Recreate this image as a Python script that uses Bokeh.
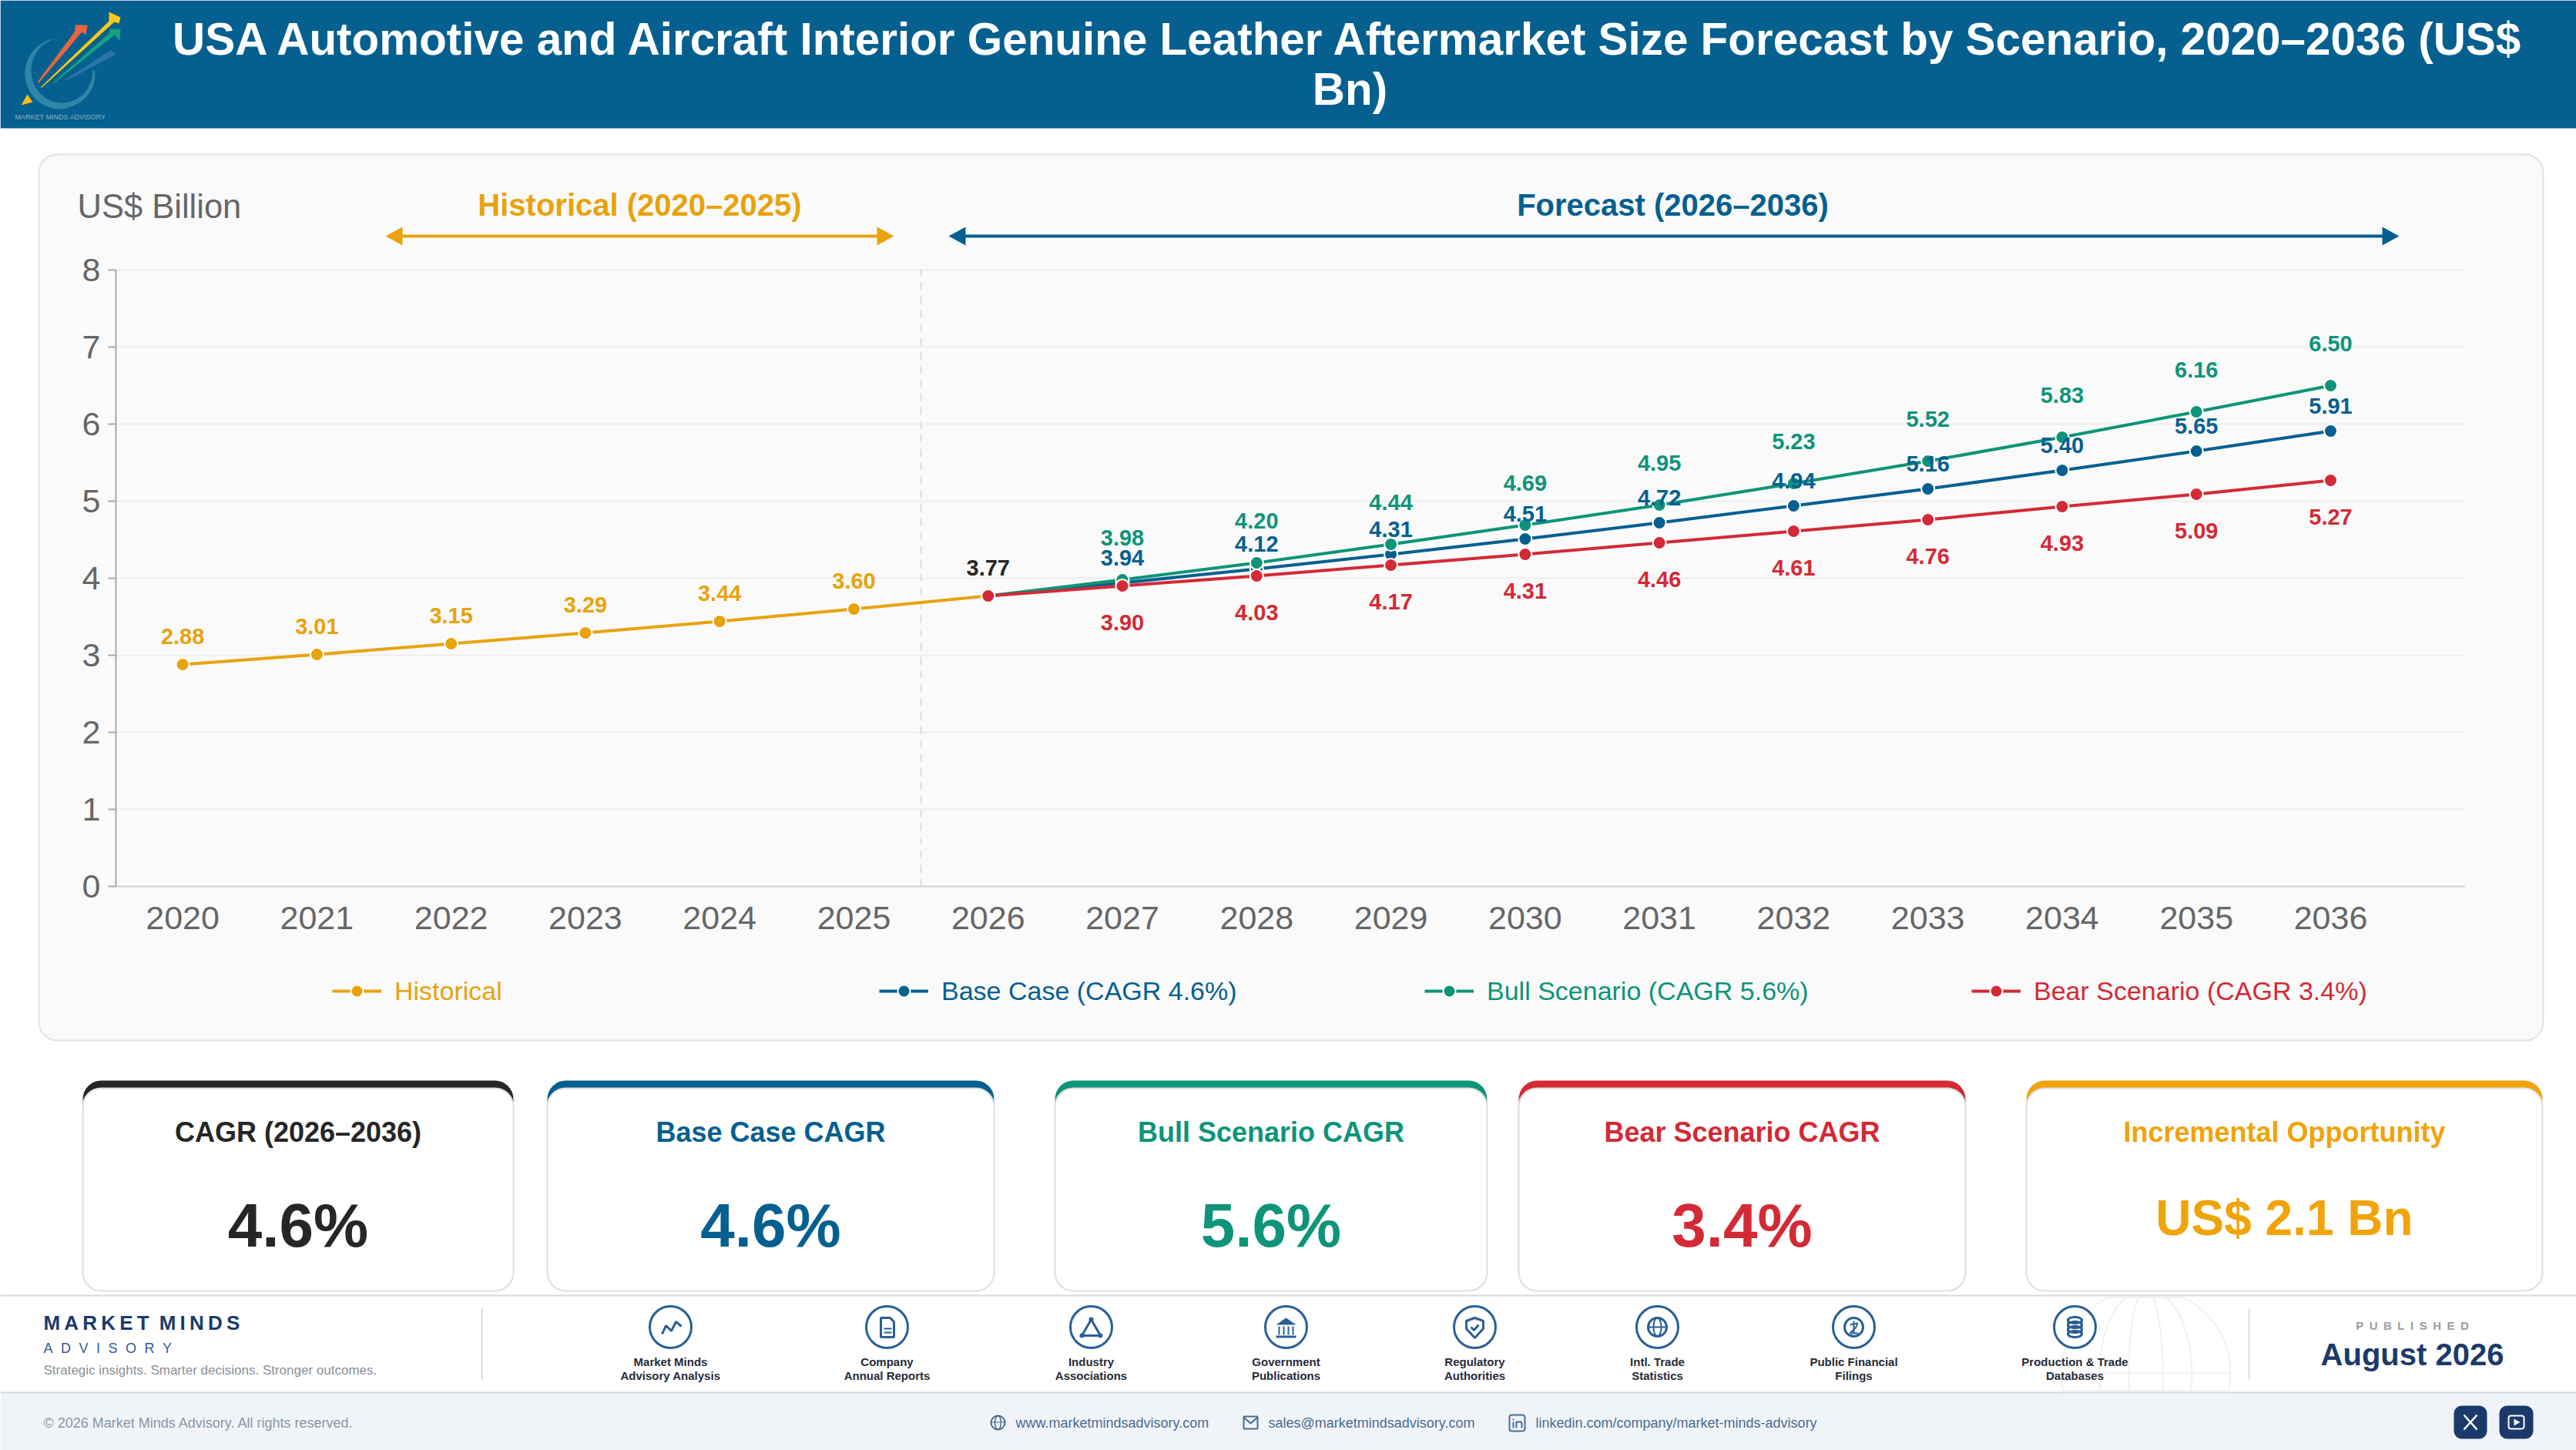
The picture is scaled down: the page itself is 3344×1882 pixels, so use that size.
import numpy as np
from bokeh.core.properties import value
from bokeh.embed import file_html
from bokeh.resources import INLINE
from bokeh.plotting import figure
from bokeh.models import (BoxAnnotation, FixedTicker, Label, Legend, LegendItem, LinearAxis, PolyAnnotation,
                          Range1d)

# ---------- data ----------
years = [2020, 2021, 2022, 2023, 2024, 2025, 2026, 2027, 2028, 2029, 2030, 2031, 2032, 2033, 2034, 2035, 2036]
tick_labels = [str(y) for y in years]
y_ticks = [0, 1, 2, 3, 4, 5, 6, 7, 8]
hist_years = [2020, 2021, 2022, 2023, 2024, 2025, 2026]
hist_values = [2.88, 3.01, 3.15, 3.29, 3.44, 3.60, 3.77]
fc_years = [2026, 2027, 2028, 2029, 2030, 2031, 2032, 2033, 2034, 2035, 2036]
base_values = [3.77, 3.94, 4.12, 4.31, 4.51, 4.72, 4.94, 5.16, 5.40, 5.65, 5.91]
bull_values = [3.77, 3.98, 4.20, 4.44, 4.69, 4.95, 5.23, 5.52, 5.83, 6.16, 6.50]
bear_values = [3.77, 3.90, 4.03, 4.17, 4.31, 4.46, 4.61, 4.76, 4.93, 5.09, 5.27]
series_names = ["Historical", "Base Case (CAGR 4.6%)", "Bull Scenario (CAGR 5.6%)", "Bear Scenario (CAGR 3.4%)"]
card_titles = ["CAGR (2026\u20132036)", "Base Case CAGR", "Bull Scenario CAGR", "Bear Scenario CAGR", "Incremental Opportunity"]
card_values = ["4.6%", "4.6%", "5.6%", "3.4%", "US$ 2.1 Bn"]
source_labels = [("Market Minds", "Advisory Analysis"), ("Company", "Annual Reports"), ("Industry", "Associations"),
                 ("Government", "Publications"), ("Regulatory", "Authorities"), ("Intl. Trade", "Statistics"),
                 ("Public Financial", "Filings"), ("Production & Trade", "Databases")]

# ---------- style ----------
FONT = "Liberation Sans"
GOLD, BLUE, GREEN, RED, INK = "#E8A20C", "#05608F", "#0E9479", "#D32A35", "#262626"
NAVY, ICON = "#1B3A6B", "#2A5F96"
W, H = 3344, 1882
OFF = 0

# The frame fills the page; the ranges are set so that the plot region sits where the reference has it.
L, R, T, B = 150, 3200, 350, 1150
STEP = (3025 - 236.6) / 16
UNIT = 100.0


def x_at(px):
    return 2020 + (px - 236.6) / STEP


def y_at(px):
    return (B - px) / UNIT


p = figure(width=W, height=H, output_backend="svg", toolbar_location=None,
           x_range=Range1d(x_at(OFF), x_at(OFF + W)), y_range=Range1d(y_at(OFF + H), y_at(OFF)),
           x_axis_location=None, y_axis_location=None,
           min_border=0, min_border_left=0, min_border_right=0, min_border_top=0, min_border_bottom=0,
           background_fill_color="white", border_fill_color="white", outline_line_color=None)
p.xgrid.visible = False
p.ygrid.visible = False


def box(l, t, r, b, fill=None, line=None, lw=1, radius=0, level="underlay"):
    p.add_layout(BoxAnnotation(left=l - OFF, right=r - OFF, top=t - OFF, bottom=b - OFF,
                               left_units="canvas", right_units="canvas", top_units="canvas", bottom_units="canvas",
                               fill_color=fill, fill_alpha=1 if fill else 0, line_color=line,
                               line_alpha=1 if line else 0, line_width=lw, border_radius=radius, level=level))


def poly(pts, fill=None, line=None, lw=1, level="annotation", alpha=1):
    xs = [a - OFF for a, _ in pts]
    ys = [c - OFF for _, c in pts]
    p.add_layout(PolyAnnotation(xs=xs, ys=ys, xs_units="canvas", ys_units="canvas",
                                fill_color=fill, fill_alpha=alpha if fill else 0, line_color=line,
                                line_alpha=alpha if line else 0, line_width=lw, level=level))


def pline(pts, color, lw=2, level="annotation", alpha=1):
    poly(list(pts) + list(pts[-2:0:-1]), line=color, lw=lw, level=level, alpha=alpha)


def txt(x, y, s, size, color, bold=False, align="center", level="annotation"):
    p.add_layout(Label(x=x - OFF, y=y - OFF, x_units="canvas", y_units="canvas", text=s,
                       text_font=FONT, text_font_size=f"{size}px", text_color=color,
                       text_font_style="bold" if bold else "normal", text_align=align,
                       text_baseline="middle", level=level))


def ell(cx, cy, rx, ry, a0=0.0, a1=2 * np.pi, n=48):
    return [(cx + rx * np.cos(t), cy + ry * np.sin(t)) for t in np.linspace(a0, a1, n)]


def circ(cx, cy, r, line=None, fill=None, lw=3, level="annotation"):
    box(cx - r, cy - r, cx + r, cy + r, fill=fill, line=line, lw=lw, radius=r, level=level)


# ---------- header ----------
box(0, 0, 3344, 166, fill=BLUE, level="image")
txt(1752, 50, "USA Automotive and Aircraft Interior Genuine Leather Aftermarket Size Forecast by Scenario, 2020\u20132036 (US$", 58.4, "white", True)
txt(1752, 115, "Bn)", 58.4, "white", True)
# logo
outer = ell(78, 95, 46, 46, 4.65, 1.4, 60) + ell(78, 95, 45, 45, 1.4, -0.05, 30)
inner = ell(80, 91, 40, 42, -0.05, 1.4, 30) + ell(80, 91, 40, 42, 1.4, 4.65, 60)
poly(outer + inner, fill="#2F86A8", level="annotation")
poly([(48, 106), (97, 40), (97, 32), (113, 32), (111, 45), (106, 41), (50, 107)], fill="#E8653F")
poly([(52, 113), (141, 27), (141, 15), (156, 22), (154, 30), (148, 28), (54, 113)], fill="#FBC715")
poly([(68, 107), (142, 42), (142, 37), (156, 37), (155, 52), (148, 45), (70, 107)], fill="#17A085")
poly([(84, 103), (143, 65), (150, 70), (86, 104)], fill="#2B76A8")
poly([(27, 136), (35, 122), (42, 132)], fill="#FBB918")
txt(78, 151, "MARKET MINDS ADVISORY", 9, "#8FB0C4")

# ---------- chart panel ----------
box(50, 200, 3301, 1350, fill="#FAFAFA", line="#E2E2E2", lw=2, radius=24, level="image")
txt(100, 267, "US$ Billion", 43.5, "#666666", align="left")
txt(830, 265, "Historical (2020\u20132025)", 40, GOLD, True)
txt(2171, 265, "Forecast (2026\u20132036)", 40, BLUE, True)
for a, b, c in [(500, 1160, GOLD), (1231, 3114, BLUE)]:
    box(a + 10, 304, b - 10, 308, fill=c, level="annotation")
    poly([(a, 306), (a + 22, 294), (a + 22, 318)], fill=c)
    poly([(b, 306), (b - 22, 294), (b - 22, 318)], fill=c)

# ---------- axes ----------
xax = LinearAxis(ticker=FixedTicker(ticks=years), major_label_overrides=dict(zip(years, tick_labels)),
                 fixed_location=0, bounds=(x_at(L), x_at(R)))
yax = LinearAxis(ticker=FixedTicker(ticks=y_ticks), fixed_location=x_at(L), bounds=(y_ticks[0], y_ticks[-1]))
p.add_layout(xax, "below")
p.add_layout(yax, "left")
for ax in (xax, yax):
    ax.major_label_text_font = FONT
    ax.major_label_text_font_size = "43px"
    ax.major_label_text_color = "#666666"
    ax.minor_tick_line_color = None
    ax.major_tick_in = 0
    ax.axis_line_width = 2
xax.major_tick_line_color = None
xax.axis_line_color = "#D0D0D0"
xax.major_label_standoff = 20
yax.axis_line_color = "#A8A8A8"
yax.major_tick_line_color = "#A8A8A8"
yax.major_tick_line_width = 2
yax.major_tick_out = 10
yax.major_label_standoff = 10
p.segment(x0=[x_at(L)] * 8, x1=[x_at(R)] * 8, y0=y_ticks[1:], y1=y_ticks[1:], line_color="#EDEDED", line_width=2,
          level="underlay")
p.line([2025.5, 2025.5], [y_ticks[0], y_ticks[-1]], line_color="#DDDDDD", line_width=2, line_dash=[10, 8])

# ---------- series ----------
specs = [(hist_years, hist_values, GOLD), (fc_years, base_values, BLUE), (fc_years, bull_values, GREEN), (fc_years, bear_values, RED)]
items = []
for xs, ys, col in specs:
    items.append(p.line(xs, ys, line_color=col, line_width=4))
marks = []
for xs, ys, col in specs:
    marks.append(p.scatter(xs, ys, size=17, marker="circle", fill_color=col, line_color="white", line_width=2))

label_style = dict(text_font=value(FONT), text_font_size=value("29px"), text_font_style="bold",
                   text_align="center", text_baseline="middle")
p.text(hist_years[:-1], hist_values[:-1], text=[f"{v:.2f}" for v in hist_values[:-1]], y_offset=-37, text_color=GOLD, **label_style)
p.text(hist_years[-1:], hist_values[-1:], text=[f"{hist_values[-1]:.2f}"], y_offset=-37, text_color=INK, **label_style)
for ys, col, off in [(bull_values, GREEN, -55), (base_values, BLUE, -33), (bear_values, RED, 47)]:
    p.text(fc_years[1:], ys[1:], text=[f"{v:.2f}" for v in ys[1:]], y_offset=off, text_color=col, **label_style)

# ---------- legends ----------
legend_x = [431, 1141, 1849, 2559]
for name, ln, mk, col, lx in zip(series_names, items, marks, [GOLD, BLUE, GREEN, RED], legend_x):
    lg = Legend(items=[LegendItem(label=name, renderers=[ln, mk])], location=(lx - OFF, OFF + H - 1286 - 20),
                background_fill_alpha=0, border_line_color=None, padding=0, margin=0, glyph_width=64, glyph_height=40,
                label_standoff=17, label_text_font=FONT, label_text_font_size="34px", label_text_color=col,
                label_height=40)
    p.add_layout(lg)

# ---------- KPI cards ----------
card_x = [(107, 666), (710, 1290), (1369, 1930), (1971, 2551), (2630, 3300)]
card_cols = [INK, BLUE, GREEN, RED, "#F0A30A"]
for (a, b), col, t, v in zip(card_x, card_cols, card_titles, card_values):
    box(a, 1402, b, 1460, fill=col, radius=24, level="image")
    box(a, 1412, b, 1675, fill="white", line="#DEDEDE", lw=2, radius=24, level="image")
    c = (a + b) / 2
    txt(c, 1469, t, 36, col, True)
    big = len(v) < 6
    txt(c, 1590 if big else 1580, v, 80 if big else 64, col, True)

# ---------- footer ----------
box(0, 1681, 3344, 1807, fill="white", level="image")
box(0, 1680, 3344, 1682, fill="#D5D7E3", level="image")
box(0, 1808, 3344, 1882, fill="#F0F4F9", level="image")
box(0, 1806, 3344, 1808, fill="#D5D7E3", level="image")
# globe watermark
gx, gy, gr = 2785, 1782, 110


def clip(pts):
    return [(a, min(max(c, 1683), 1805)) for a, c in pts]


WM = "#EFF0F4"
for rx in (110, 60, 22):
    pline(clip(ell(gx, gy, rx, gr, -np.pi / 2, 3 * np.pi / 2, 60)), WM, 2, level="underlay")
pline(clip(ell(gx, gy + 90, 108, 50, np.pi, 2 * np.pi, 30)), WM, 2, level="underlay")
box(gx - 110, gy - 1, gx + 110, gy + 1, fill=WM, level="underlay")

THIN, EN, HAIR = "\u2009", "\u2002", "\u200a"
txt(56, 1716, THIN.join("MARKET") + EN + THIN.join("MINDS"), 26, NAVY, True, "left")
txt(56, 1749, (EN + HAIR).join("ADVISORY"), 18, "#2F5C94", False, "left")
txt(56, 1778, "Strategic insights. Smarter decisions. Stronger outcomes.", 17, "#8A8F98", False, "left")
box(624, 1698, 626, 1790, fill="#D8DCE4")
box(2918, 1698, 2920, 1790, fill="#D8DCE4")

icon_x = [870, 1151, 1416, 1669, 1914, 2151, 2406, 2693]
for cx, (l1, l2) in zip(icon_x, source_labels):
    circ(cx, 1722, 27, line=ICON)
    txt(cx, 1767, l1, 15, "#262B3A", True)
    txt(cx, 1785, l2, 15, "#262B3A", True)
cy = 1722


def rel(cx, pts):
    return [(cx + a, cy + b) for a, b in pts]


c = icon_x[0]
pline(rel(c, [(-11, 9), (-6, -2), (1, 5), (7, -7), (14, -1)]), ICON, 3)
c = icon_x[1]
poly(rel(c, [(-8, -12), (4, -12), (9, -7), (9, 13), (-8, 13)]), line=ICON, lw=3)
box(c - 4, cy + 1, c + 6, cy + 3, fill=ICON, level="annotation")
box(c - 4, cy + 6, c + 6, cy + 8, fill=ICON, level="annotation")
c = icon_x[2]
poly(rel(c, [(0, -10), (-12, 11), (12, 11)]), line=ICON, lw=3)
for dx, dy in [(0, -10), (-12, 11), (12, 11)]:
    circ(c + dx, cy + dy, 3, fill=ICON, lw=0)
c = icon_x[3]
poly(rel(c, [(0, -12), (-13, -3), (13, -3)]), fill=ICON)
for dx in (-10, -4, 2, 8):
    box(c + dx, cy - 1, c + dx + 2, cy + 10, fill=ICON, level="annotation")
box(c - 13, cy + 11, c + 13, cy + 14, fill=ICON, level="annotation")
c = icon_x[4]
poly(rel(c, [(0, -12), (11, -8), (11, 2), (0, 14), (-11, 2), (-11, -8)]), line=ICON, lw=3)
pline(rel(c, [(-5, 0), (-1, 4), (5, -3)]), ICON, 3)
c = icon_x[5]
circ(c, cy, 12, line=ICON)
pline(ell(c, cy, 5, 12, -np.pi / 2, np.pi / 2, 16), ICON, 2)
pline(ell(c, cy, 5, 12, np.pi / 2, 3 * np.pi / 2, 16), ICON, 2)
box(c - 12, cy - 1, c + 12, cy + 1, fill=ICON, level="annotation")
c = icon_x[6]
circ(c, cy, 12, line=ICON)
pline(rel(c, [(-5, -3), (5, -5), (3, 0), (-5, 8), (6, 8)]), ICON, 2)
box(c - 1, cy - 8, c + 1, cy + 8, fill=ICON, level="annotation")
c = icon_x[7]
for dy in (-9, -3, 3, 9):
    poly(ell(c, cy + dy, 9, 4), line=ICON, lw=3)
box(c - 10, cy - 9, c - 8, cy + 9, fill=ICON, level="annotation")
box(c + 8, cy - 9, c + 10, cy + 9, fill=ICON, level="annotation")
# contact strip
txt(56, 1846, "\u00a9 2026 Market Minds Advisory. All rights reserved.", 18, "#8C95A3", False, "left")
LINK = "#4A6A90"
txt(1318, 1846, "www.marketmindsadvisory.com", 18, LINK, False, "left")
txt(1646, 1846, "sales@marketmindsadvisory.com", 18, LINK, False, "left")
txt(1993, 1846, "linkedin.com/company/market-minds-advisory", 18, LINK, False, "left")
cy = 1846
c = 1295
circ(c, cy, 9, line=LINK, lw=2)
pline(ell(c, cy, 4, 9, -np.pi / 2, np.pi / 2, 12), LINK, 1.5)
pline(ell(c, cy, 4, 9, np.pi / 2, 3 * np.pi / 2, 12), LINK, 1.5)
box(c - 9, cy - 1, c + 9, cy, fill=LINK, level="annotation")
box(1614, 1838, 1632, 1854, line=LINK, lw=2, radius=1, level="annotation")
pline([(1614, 1839), (1623, 1847), (1632, 1839)], LINK, 2)
box(1959, 1836, 1979, 1857, line=LINK, lw=2, radius=3, level="annotation")
box(1963, 1845, 1965, 1853, fill=LINK, level="annotation")
box(1963, 1841, 1965, 1843, fill=LINK, level="annotation")
pline([(1968, 1853), (1968, 1845), (1974, 1845), (1975, 1847), (1975, 1853)], LINK, 2)

box(3185, 1824, 3228, 1867, fill=NAVY, radius=10, level="annotation")
box(3244, 1824, 3288, 1867, fill=NAVY, radius=10, level="annotation")
pline([(3198, 1836), (3215, 1855)], "white", 2.5)
pline([(3215, 1836), (3198, 1855)], "white", 2.5)
box(3256, 1837, 3276, 1854, line="white", lw=2, radius=3, level="annotation")
poly([(3263, 1841), (3271, 1845.5), (3263, 1850)], fill="white")

txt(3131, 1720, EN.join("PUBLISHED"), 15, "#9A9DA5", True)
txt(3131, 1757, "August 2026", 40, NAVY, True)

open("out.html", "w").write(file_html(p, INLINE))
